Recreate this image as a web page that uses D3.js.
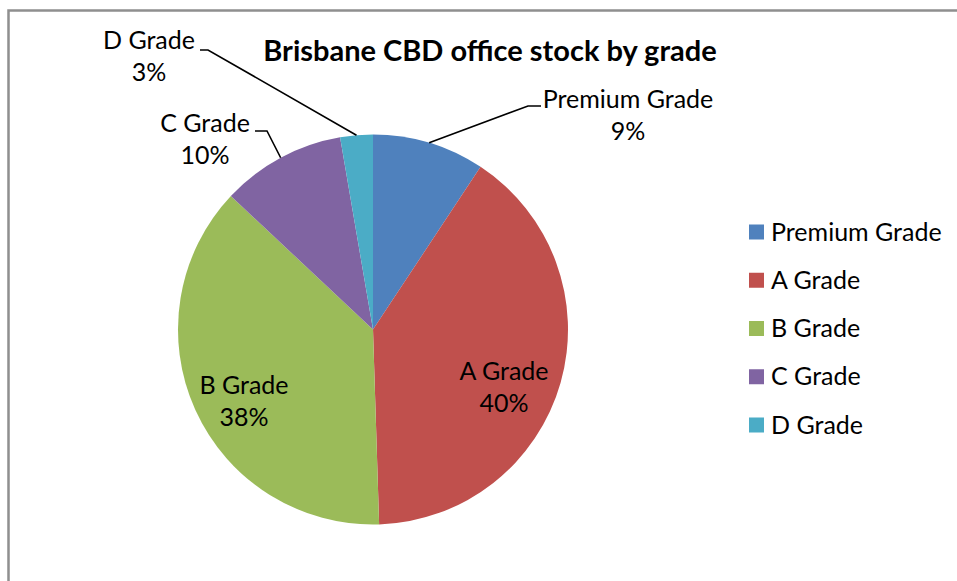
<!DOCTYPE html>
<html>
<head>
<meta charset="utf-8">
<script src="https://cdn.jsdelivr.net/npm/d3@7"></script>
<style>
    body { margin: 0; background: #ffffff; }
    svg { display: block; font-family: Lato, "Open Sans", sans-serif; }
</style>
</head>
<body>
<svg id="chart"></svg>
<script>
// data (share of stock, %)
const categories = ["Premium Grade", "A Grade", "B Grade", "C Grade", "D Grade"];
const stockShare = [9.3, 40.2, 37.5, 10.3, 2.7];
const sliceColors = ["#4f81bd", "#c0504d", "#9bbb59", "#8064a2", "#4bacc6"];
const chartTitle = "Brisbane CBD office stock by grade";

// label placement (Excel "best fit"): text centre + optional leader elbow
const labelLayout = [
    { x: 628, y: 108, elbow: [[528, 106], [541, 106]] },
    { x: 504, y: 380, elbow: null },
    { x: 244, y: 394, elbow: null },
    { x: 205, y: 132, elbow: [[267, 131], [255, 131]] },
    { x: 149, y: 49, elbow: [[208, 50], [200, 50]] }
];

const width = 957;
const height = 581;
const cx = 373, cy = 329.5, radius = 195;
const fontSize = 25;

const svg = d3.select("#chart")
    .attr("width", width)
    .attr("height", height);

// chart area frame (only top and left edges are inside the crop)
svg.append("path")
    .attr("d", `M8.5,${height} V10.5 H${width}`)
    .attr("fill", "none")
    .attr("stroke", "#8f8f8f")
    .attr("stroke-width", 2.5);

const data = categories.map((name, i) => ({ name: name, value: stockShare[i], i: i }));

const pie = d3.pie()
    .sort(null)
    .value(d => d.value);
const arcs = pie(data);

const arc = d3.arc()
    .innerRadius(0)
    .outerRadius(radius);

const g = svg.append("g")
    .attr("transform", `translate(${cx},${cy})`);

g.selectAll("path.slice")
    .data(arcs)
    .enter()
    .append("path")
    .attr("class", "slice")
    .attr("d", arc)
    .attr("fill", d => sliceColors[d.data.i]);

// leader lines for the outside labels
const total = d3.sum(stockShare);
arcs.forEach(d => {
    const lay = labelLayout[d.data.i];
    if (!lay.elbow) return;
    const mid = (d.startAngle + d.endAngle) / 2;
    const start = [cx + radius * Math.sin(mid), cy - radius * Math.cos(mid)];
    svg.append("path")
        .attr("d", d3.line()([start].concat(lay.elbow)))
        .attr("fill", "none")
        .attr("stroke", "#000")
        .attr("stroke-width", 1.6);
});

// data labels: category + percent
arcs.forEach(d => {
    const lay = labelLayout[d.data.i];
    const pct = Math.round(d.data.value / total * 100) + "%";
    const t = svg.append("text")
        .attr("text-anchor", "middle")
        .attr("font-size", fontSize)
        .attr("fill", "#000");
    t.append("tspan").attr("x", lay.x).attr("y", lay.y).text(d.data.name);
    t.append("tspan").attr("x", lay.x).attr("y", lay.y + 32).text(pct);
});

// title
svg.append("text")
    .attr("x", 490)
    .attr("y", 61)
    .attr("text-anchor", "middle")
    .attr("font-size", 29)
    .attr("font-weight", "bold")
    .text(chartTitle);

// legend
const legendY = d3.scalePoint()
    .domain(categories)
    .range([232, 425]);

const legend = svg.append("g")
    .selectAll("g")
    .data(categories)
    .enter()
    .append("g")
    .attr("transform", d => `translate(749,${legendY(d)})`);

legend.append("rect")
    .attr("x", 0)
    .attr("y", -7.5)
    .attr("width", 15)
    .attr("height", 15)
    .attr("fill", (d, i) => sliceColors[i]);

legend.append("text")
    .attr("x", 22)
    .attr("y", 8.5)
    .attr("font-size", fontSize)
    .text(d => d);
</script>
</body>
</html>
